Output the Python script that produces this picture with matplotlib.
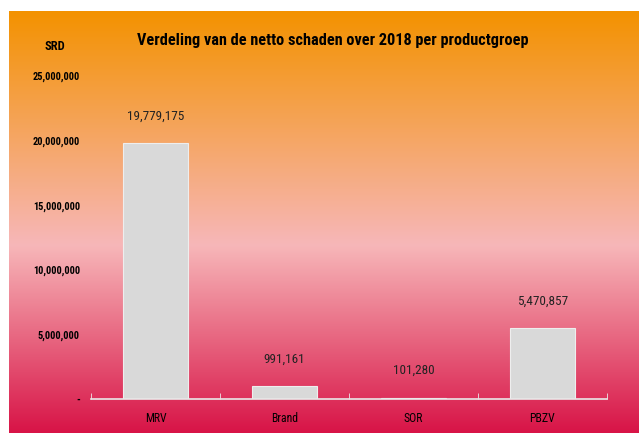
import numpy as np
import matplotlib.pyplot as plt
from matplotlib import font_manager
from matplotlib.colors import LinearSegmentedColormap
from matplotlib.ticker import FuncFormatter

# --- DATA ---
categories = ["MRV", "Brand", "SOR", "PBZV"]
claims = [19779175, 991161, 101280, 5470857]
y_ticks = [0, 5000000, 10000000, 15000000, 20000000, 25000000]

# look for a narrow face (the original uses a condensed Calibri-like font)
names = {f.name for f in font_manager.fontManager.ttflist}
narrow = [n for n in ["Liberation Sans Narrow", "DejaVu Sans Condensed", "Roboto Condensed",
                      "Open Sans Condensed"] if n in names]
if narrow:
    plt.rcParams['font.family'] = [narrow[0], 'DejaVu Sans']
    scale = 1.0
else:
    plt.rcParams['font.family'] = ['DejaVu Sans']
    scale = 0.72

W, H = 639, 433
fig = plt.figure(figsize=(W / 100, H / 100), dpi=100, facecolor="white")

# gradient background (orange -> pink -> crimson)
bg = fig.add_axes([9 / W, 0, 1 - 9 / W, (H - 11) / H])
cmap = LinearSegmentedColormap.from_list(
    "bg", [(0.0, "#d81447"), (0.445, "#f7b7b9"), (1.0, "#f39200")])
grad = np.linspace(0, 1, 256).reshape(-1, 1)
bg.imshow(grad, aspect="auto", cmap=cmap, origin="lower", extent=[0, 1, 0, 1])
bg.set_axis_off()

# main plot axes
ax = fig.add_axes([91 / W, (H - 399) / H, (607 - 91) / W, (399 - 76) / H])
ax.patch.set_alpha(0)
x = np.arange(len(categories))
ax.bar(x, claims, width=0.5, color="#d9d9d9", edgecolor="#eeeeee", linewidth=0.8)
ax.set_xlim(-0.5, len(categories) - 0.5)
ax.set_ylim(0, 25000000)

for xi, v in zip(x, claims):
    ax.annotate(f"{v:,}", (xi, v), xytext=(0, 15), textcoords="offset points",
                ha="center", va="bottom", fontsize=9.5 * scale, color="#222222")

ax.set_yticks(y_ticks)
ax.yaxis.set_major_formatter(FuncFormatter(lambda v, p: "-" if v == 0 else f"{int(v):,}"))
for lab in ax.get_yticklabels():
    lab.set_fontweight("bold")
ax.tick_params(axis="y", length=0, labelsize=7.5 * scale, pad=8)

ax.set_xticks(x)
ax.set_xticklabels(categories)
ax.set_xticks(np.arange(-0.5, len(categories)), minor=True)
ax.tick_params(axis="x", which="major", length=0, labelsize=8.5 * scale, pad=9)
ax.tick_params(axis="x", which="minor", length=4, direction="in", color="#e8e8e8")

for s in ["top", "right", "left"]:
    ax.spines[s].set_visible(False)
ax.spines["bottom"].set_color("#e8e8e8")
ax.spines["bottom"].set_linewidth(1.2)

fig.text(333 / W, 1 - 40 / H, "Verdeling van de netto schaden over 2018 per productgroep",
         ha="center", va="center", fontsize=11.7 * scale, fontweight="bold")
fig.text(55 / W, 1 - 47 / H, "SRD", ha="center", va="center", fontsize=9 * scale, fontweight="bold")

fig.savefig("out.png", dpi=100, facecolor="white")
